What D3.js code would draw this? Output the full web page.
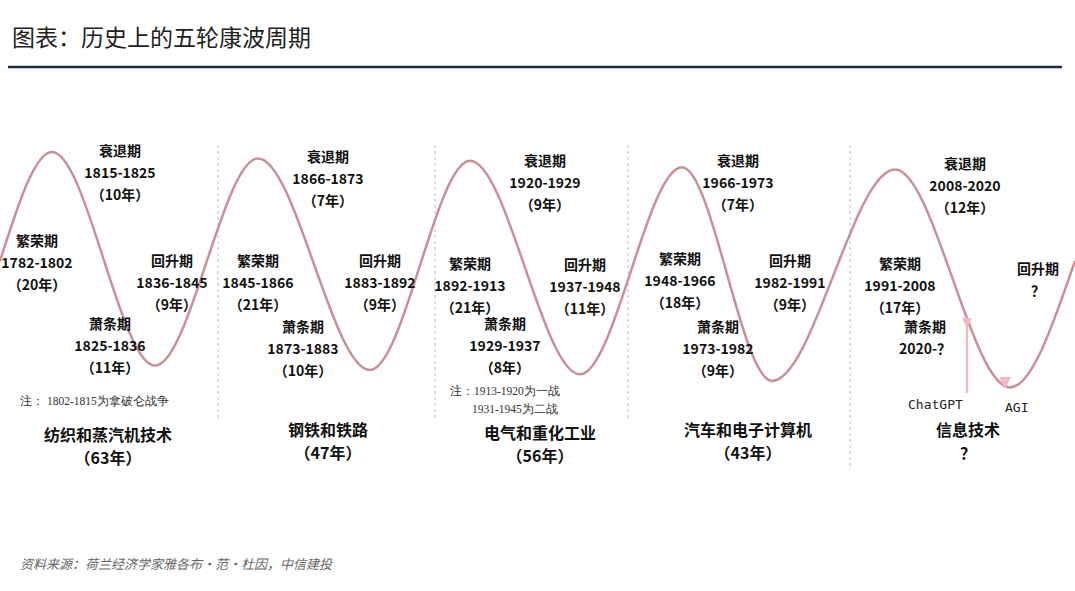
<!DOCTYPE html><html><head><meta charset="utf-8"><script src="https://cdn.jsdelivr.net/npm/d3@7"></script>
<style>body{margin:0;background:#fff}</style></head><body><svg id="c" width="1075" height="591"></svg>
<script>
const title="图表：历史上的五轮康波周期";
const source="资料来源：荷兰经济学家雅各布·范·杜因，中信建投";
const curveX=[0,52,155,258,370,470,580,682,772,895,1010,1075];
const curveY=[0.5,1.0,0.02,0.97,0.0,0.96,-0.02,0.93,-0.05,0.92,-0.08,0.5];
const separators=[218,435,628,850];
const phaseLabels=[
 [120,152,["衰退期","1815-1825","（10年）"]],
 [37,242,["繁荣期","1782-1802","（20年）"]],
 [172,262,["回升期","1836-1845","（9年）"]],
 [110,325,["萧条期","1825-1836","（11年）"]],
 [328,158,["衰退期","1866-1873","（7年）"]],
 [258,262,["繁荣期","1845-1866","（21年）"]],
 [380,262,["回升期","1883-1892","（9年）"]],
 [303,328,["萧条期","1873-1883","（10年）"]],
 [545,162,["衰退期","1920-1929","（9年）"]],
 [470,265,["繁荣期","1892-1913","（21年）"]],
 [585,266,["回升期","1937-1948","（11年）"]],
 [505,325,["萧条期","1929-1937","（8年）"]],
 [738,162,["衰退期","1966-1973","（7年）"]],
 [680,260,["繁荣期","1948-1966","（18年）"]],
 [790,262,["回升期","1982-1991","（9年）"]],
 [718,328,["萧条期","1973-1982","（9年）"]],
 [965,165,["衰退期","2008-2020","（12年）"]],
 [900,265,["繁荣期","1991-2008","（17年）"]],
 [1038,270,["回升期","？"]],
 [925,328,["萧条期","2020-？"]]
];
const techLabels=[
 [108,437,["纺织和蒸汽机技术","（63年）"]],
 [328,432,["钢铁和铁路","（47年）"]],
 [540,435,["电气和重化工业","（56年）"]],
 [748,432,["汽车和电子计算机","（43年）"]],
 [968,432,["信息技术","？"]]
];
const notes=[[20,402,"注：  1802-1815为拿破仑战争"],[450,392,"注：1913-1920为一战"],[472,410,"1931-1945为二战"]];

const svg=d3.select("#c");
const x=d3.scaleLinear().domain([0,1075]).range([0,1075]);
const y=d3.scaleLinear().domain([0,1]).range([370,152]);
const font="'Noto Sans CJK SC','Noto Sans',sans-serif";
svg.append("text").attr("x",12).attr("y",46).attr("font-family",font).attr("font-size",23).attr("fill","#222").text(title);
svg.append("line").attr("x1",8).attr("x2",1062).attr("y1",67).attr("y2",67).attr("stroke","#1c2a4a").attr("stroke-width",2.5);
separators.forEach((s,i)=>svg.append("line").attr("x1",x(s)).attr("x2",x(s)).attr("y1",145).attr("y2",i==3?470:420).attr("stroke","#bbb").attr("stroke-dasharray","3,3"));
const pts=curveX.map((d,i)=>[x(d),y(curveY[i])]);
svg.append("path").attr("d",d3.line().curve(d3.curveMonotoneX)(pts)).attr("fill","none").attr("stroke","#c99096").attr("stroke-width",2.5);
svg.append("line").attr("x1",x(967)).attr("x2",x(967)).attr("y1",320).attr("y2",393).attr("stroke","#f0b8c4").attr("stroke-width",2.5);
svg.append("path").attr("d",`M${x(962)},318L${x(972)},318L${x(967)},328Z`).attr("fill","#f0b8c4");
svg.append("path").attr("d",`M${x(999)},377L${x(1011)},377L${x(1005)},389Z`).attr("fill","#f0b8c4");
function block(arr,size,lh){arr.forEach(([cx,cy,lines])=>{lines.forEach((t,j)=>svg.append("text").attr("x",x(cx)).attr("y",cy+j*lh).attr("dominant-baseline","middle").attr("text-anchor","middle").attr("font-family",font).attr("font-weight","bold").attr("font-size",size).attr("fill","#111").text(t));});}
block(phaseLabels,14,22);
block(techLabels,16,23);
notes.forEach(([nx,ny,t])=>svg.append("text").attr("x",nx).attr("y",ny).attr("dominant-baseline","middle").attr("font-family","'Liberation Serif',serif").attr("font-size",11.5).attr("fill","#333").text(t));
svg.append("text").attr("x",908).attr("y",405).attr("dominant-baseline","middle").attr("font-family","'DejaVu Sans Mono',monospace").attr("font-size",13).attr("fill","#222").text("ChatGPT");
svg.append("text").attr("x",1005).attr("y",408).attr("dominant-baseline","middle").attr("font-family","'DejaVu Sans Mono',monospace").attr("font-size",13).attr("fill","#222").text("AGI");
svg.append("text").attr("x",20).attr("y",565).attr("dominant-baseline","middle").attr("font-family",font).attr("font-style","italic").attr("font-size",13).attr("fill","#666").text(source);
</script></body></html>
